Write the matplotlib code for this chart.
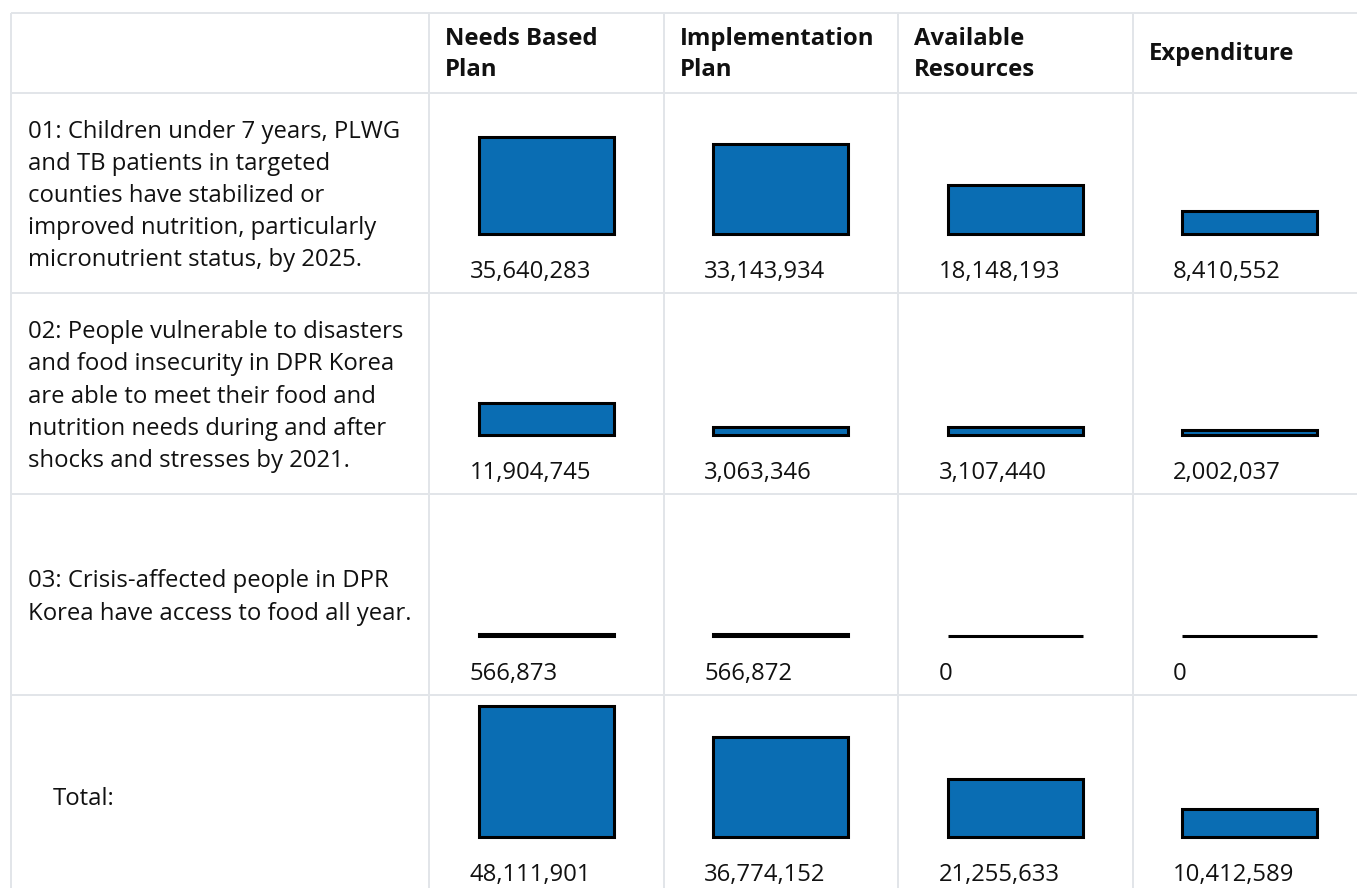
import numpy as np
import matplotlib.pyplot as plt

plt.rcParams['font.family'] = ['Open Sans', 'DejaVu Sans']

columns = ["Needs Based\nPlan", "Implementation\nPlan", "Available\nResources", "Expenditure"]
row_labels = [
    "01: Children under 7 years, PLWG\nand TB patients in targeted\ncounties have stabilized or\nimproved nutrition, particularly\nmicronutrient status, by 2025.",
    "02: People vulnerable to disasters\nand food insecurity in DPR Korea\nare able to meet their food and\nnutrition needs during and after\nshocks and stresses by 2021.",
    "03: Crisis-affected people in DPR\nKorea have access to food all year.",
    "Total:",
]
values = [
    [35640283, 33143934, 18148193, 8410552],
    [11904745, 3063346, 3107440, 2002037],
    [566873, 566872, 0, 0],
    [48111901, 36774152, 21255633, 10412589],
]

W, H = 1357, 888
grid_col = '#e2e5e9'
bar_col = '#0a6db3'
txt_col = '#111111'
fs = 17.2

# table layout in pixels
left = 11
col_x = [429, 663.5, 898, 1132.5, 1367]
row_y = [13, 93, 293, 494, 695, 896]
px_per_m = 2.72

fig = plt.figure(figsize=(W / 100, H / 100), dpi=100)
ax = fig.add_axes([0, 0, 1, 1])
ax.set_xlim(0, W)
ax.set_ylim(H, 0)
ax.axis('off')

# grid lines
for y in row_y[:-1]:
    ax.plot([left, W], [y, y], color=grid_col, lw=1.4, solid_capstyle='butt')
for x in [left] + col_x[:-1]:
    ax.plot([x, x], [row_y[0], H], color=grid_col, lw=1.4, solid_capstyle='butt')

# header
for j, c in enumerate(columns):
    ax.text(col_x[j] + 16, (row_y[0] + row_y[1]) / 2 + 1.5, c, ha='left', va='center',
            fontsize=fs, fontweight='bold', color=txt_col, linespacing=1.39)

# row labels
for i, lab in enumerate(row_labels):
    yc = (row_y[i + 1] + row_y[i + 2]) / 2 + 3
    xl = 53 if lab == "Total:" else 28
    ax.text(xl, yc, lab, ha='left', va='center', fontsize=fs, color=txt_col, linespacing=1.455)

# bars per row
cell_w = col_x[1] - col_x[0]
bar_w = 135 / cell_w
ax_h = 150
for i, vals in enumerate(values):
    bottom_px = row_y[i + 2]
    base_px = bottom_px - 59
    bax = fig.add_axes([col_x[0] / W, (H - base_px) / H, (col_x[-1] - col_x[0]) / W, ax_h / H])
    bax.set_xlim(-0.5, len(columns) - 0.5)
    bax.set_ylim(0, ax_h / px_per_m)
    bax.axis('off')
    vm = np.array(vals) / 1e6
    bax.bar(np.arange(len(vals)), vm, width=bar_w, color=bar_col, edgecolor='black', linewidth=2.2,
            clip_on=False)
    for j, v in enumerate(vals):
        xc = col_x[j] + cell_w / 2
        ax.text(xc - 135 / 2 - 9, bottom_px - 15.5, f"{v:,}", ha='left', va='baseline',
                fontsize=fs, color=txt_col)

fig.savefig('out.png', dpi=100)
